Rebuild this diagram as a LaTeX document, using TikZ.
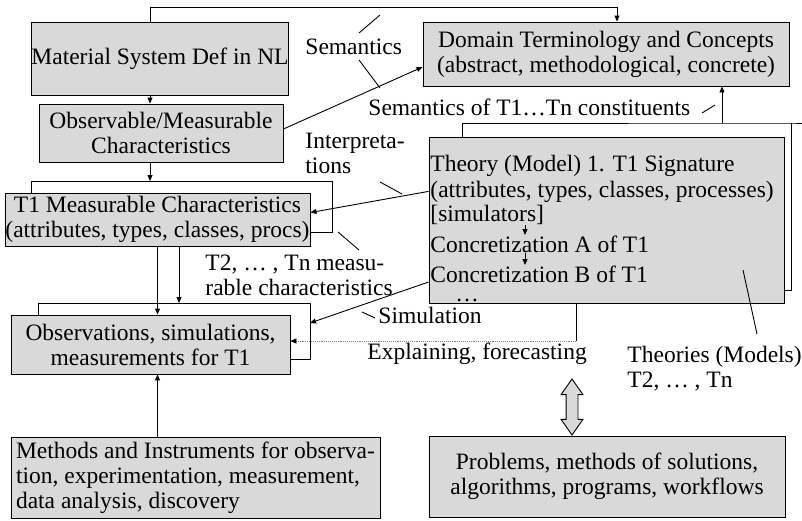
\documentclass[tikz,border=0pt]{standalone}
\usepackage{fontspec}
\setmainfont{Liberation Serif}
\usetikzlibrary{arrows.meta,shapes.arrows}
\definecolor{boxgray}{RGB}{217,217,217}
\begin{document}
\begin{tikzpicture}[x=1pt,y=-1pt,line width=0.9pt,
  box/.style={draw,fill=boxgray,inner sep=0pt,align=center},
  lbl/.style={anchor=base west,inner sep=0pt,align=left},
  arr/.style={-{Triangle[length=6pt,width=5pt]}},
  dotarr/.style={densely dotted,gray,-{Triangle[length=6pt,width=5pt,color=black]}},
  dbl/.style={double arrow,draw,fill=boxgray,rotate=90,inner xsep=0pt,inner ysep=5.5pt,minimum height=56,double arrow head extend=5pt,double arrow tip angle=70}]
\fontsize{23.5}{25}\selectfont
\useasboundingbox (0,0) rectangle (802,520);
\node[box,minimum width=256,minimum height=73] (msys) at (160,58.5) {Material System Def in NL};
\node[box,minimum width=366,minimum height=64] (domain) at (606,54) {Domain Terminology and Concepts\\(abstract, methodological, concrete)};
\node[box,minimum width=244,minimum height=58] (observ) at (161,133) {Observable/Measurable\\Characteristics};
\node[box,minimum width=355,minimum height=166] (theory) at (606.5,220) {};
\node[box,minimum width=305,minimum height=53] (t1) at (157.5,219.5) {T1 Measurable Characteristics\\(attributes, types, classes, procs)};
\node[box,minimum width=279,minimum height=59] (obs) at (150.5,344.5) {Observations, simulations,\\measurements for T1};
\node[box,minimum width=369,minimum height=81,align=left] (meth) at (195.5,477.5) {Methods and Instruments for observa-\\tion, experimentation, measurement,\\data analysis, discovery};
\node[box,minimum width=356,minimum height=81] (prob) at (607,476.5) {Problems, methods of solutions,\\algorithms, programs, workflows};
\node[lbl] (sig1) at (430,171) {Theory (Model) 1. T1 Signature};
\node[lbl] (sig2) at (430,197) {(attributes, types, classes, processes)};
\node[lbl] (sim) at (430,221) {[simulators]};
\node[lbl] (concA) at (430,252) {Concretization A of T1};
\node[lbl] (concB) at (430,282) {Concretization B of T1};
\node[lbl] (etc) at (455,301) {…};
\node[lbl] (sem) at (305,54) {Semantics};
\node[lbl] (semT) at (368,115) {Semantics of T1…Tn constituents};
\node[lbl] (interp) at (305,173) {Interpreta-\\tions};
\node[lbl] (tnmeas) at (205,295) {T2, … , Tn measu-\\rable characteristics};
\node[lbl] (simul) at (378,323) {Simulation};
\node[lbl] (expl) at (367,359) {Explaining, forecasting};
\node[lbl] (tmodels) at (627,387) {Theories (Models)\\T2, … , Tn};
\node[dbl] (bi) at (572,407) {};
\coordinate (col) at (150,0);
\coordinate (col2) at (179,0);
\coordinate (col3) at (722,0);
\coordinate (ax) at (525,0);
\coordinate (t1back) at (332,181);
\coordinate (obsback) at (310,303);
\coordinate (thback) at (791,123);
\coordinate (simend) at (310,323);
\coordinate (xp) at (576,341);
\draw[arr] (msys.north -| col) -- ++(0,-14) -| ([xshift=11]domain.north);
\draw[arr] (msys.south -| col) -- (observ.north -| col);
\draw[arr] ([yshift=4]observ.east) -- ([yshift=-13]domain.west);
\draw ([xshift=27]t1.north west) |- (t1back) |- ([yshift=-12.5]t1.east);
\draw[arr] (observ.south -| col) -- (col |- t1back);
\draw ([xshift=28]obs.north west) |- (obsback) |- ([yshift=-14.5]obs.east);
\draw[arr] (t1.south -| col2) -- (col2 |- obsback);
\draw[arr] (t1.south) -- (t1.south |- obs.north);
\draw[arr] (meth.north -| t1.south) -- (obs.south -| t1.south);
\draw ([xshift=34]theory.north west) |- (thback) -- ++(11,0);
\draw (thback) |- ([yshift=-70]theory.east);
\draw[arr] (col3 |- thback) -- (domain.south -| col3);
\draw[arr] (sim.south -| ax) -- (concA.north -| ax);
\draw[arr] (concA.south -| ax) -- (concB.north -| ax);
\draw[arr] (theory.west |- sig2) -- ([yshift=7]t1.east);
\draw[arr] (theory.west |- concB.base) -- (simend);
\draw (theory.south -| xp) -- (xp);
\draw[dotarr] (xp) -- (obs.east |- xp);
\draw (359,33) -- (380,15);
\draw (359,60) -- (380,88);
\draw (702,113) -- (715,105);
\draw (380,182) -- (402,194);
\draw (338,232) -- (359,250);
\draw (362,312) -- (375,318);
\draw (743,270) -- (757,334);
\end{tikzpicture}
\end{document}
